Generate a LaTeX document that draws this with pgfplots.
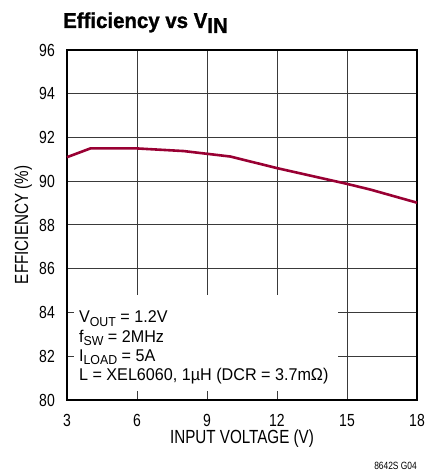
\documentclass[border=0pt]{standalone}
\usepackage{fontspec}
\setmainfont{Liberation Sans}[FakeStretch=0.80]
\newfontfamily\annfont{Liberation Sans}[FakeStretch=0.95]
\newfontfamily\titlefont{Liberation Sans Bold}[FakeStretch=0.95, FakeBold=1.2]
\usepackage{pgfplots}
\pgfplotsset{compat=1.18}
\definecolor{curve}{HTML}{990033}
\definecolor{gridc}{HTML}{3A3A3A}
\newcommand\sub[1]{\raisebox{-3pt}{\fontsize{13}{13}\selectfont #1}}
\begin{document}
\begin{tikzpicture}
\begin{axis}[name=ax, scale only axis, width=350pt, height=350pt,
  xmin=3, xmax=18, ymin=80, ymax=96,
  xtick={3,6,9,12,15,18}, ytick={80,82,84,86,88,90,92,94,96},
  grid=major, major grid style={gridc, line width=1pt},
  axis line style={black, line width=1.7pt},
  major tick length=0pt,
  /pgf/number format/assume math mode=true,
  tick label style={font=\fontsize{17.5}{17.5}\selectfont, inner sep=0pt},
  xticklabel style={anchor=base, yshift=-26pt},
  yticklabel style={anchor=east, xshift=-12pt},
  xlabel={INPUT VOLTAGE (V)}, ylabel={EFFICIENCY (\%)},
  xlabel style={font=\fontsize{19}{19}\selectfont, inner sep=0pt, at={(axis description cs:0.5,0)}, anchor=base, yshift=-43pt},
  ylabel style={font=\fontsize{19}{19}\selectfont, inner sep=0pt, at={(axis description cs:-0.111,0.5)}, anchor=base, rotate=0},
  clip=false,
]
\addplot[curve, line width=2.6pt, line join=round] coordinates {
(3,91.10) (4,91.50) (6,91.50) (8,91.38) (10,91.13) (12,90.60) (15,89.88) (16,89.62) (18,89.02)};
\fill[white] (axis cs:3.3,80.41) rectangle (axis cs:14.62,84.8);
\node[anchor=base west, inner sep=0pt, font=\annfont\fontsize{17}{17}\selectfont] at (axis cs:3.51,83.52) {V\sub{OUT} = 1.2V};
\node[anchor=base west, inner sep=0pt, font=\annfont\fontsize{17}{17}\selectfont] at (axis cs:3.51,82.65) {f\sub{SW} = 2MHz};
\node[anchor=base west, inner sep=0pt, font=\annfont\fontsize{17}{17}\selectfont] at (axis cs:3.51,81.78) {I\sub{LOAD} = 5A};
\node[anchor=base west, inner sep=0pt, font=\annfont\fontsize{17}{17}\selectfont] at (axis cs:3.51,80.91) {L = XEL6060, 1µH (DCR = 3.7mΩ)};
\end{axis}
\node[anchor=base west, inner sep=0pt, font=\titlefont\fontsize{21.5}{21.5}\selectfont] at ([shift={(-4pt,22pt)}]ax.north west) {Efficiency vs V\raisebox{-5pt}{IN}};
\node[anchor=base east, inner sep=0pt, font=\fontsize{10.5}{10.5}\selectfont] at ([shift={(0pt,-69pt)}]ax.south east) {8642S G04};
\pgfresetboundingbox
\useasboundingbox ([shift={(-67pt,-71pt)}]ax.south west) rectangle ([shift={(11pt,50pt)}]ax.north east);
\end{tikzpicture}
\end{document}
